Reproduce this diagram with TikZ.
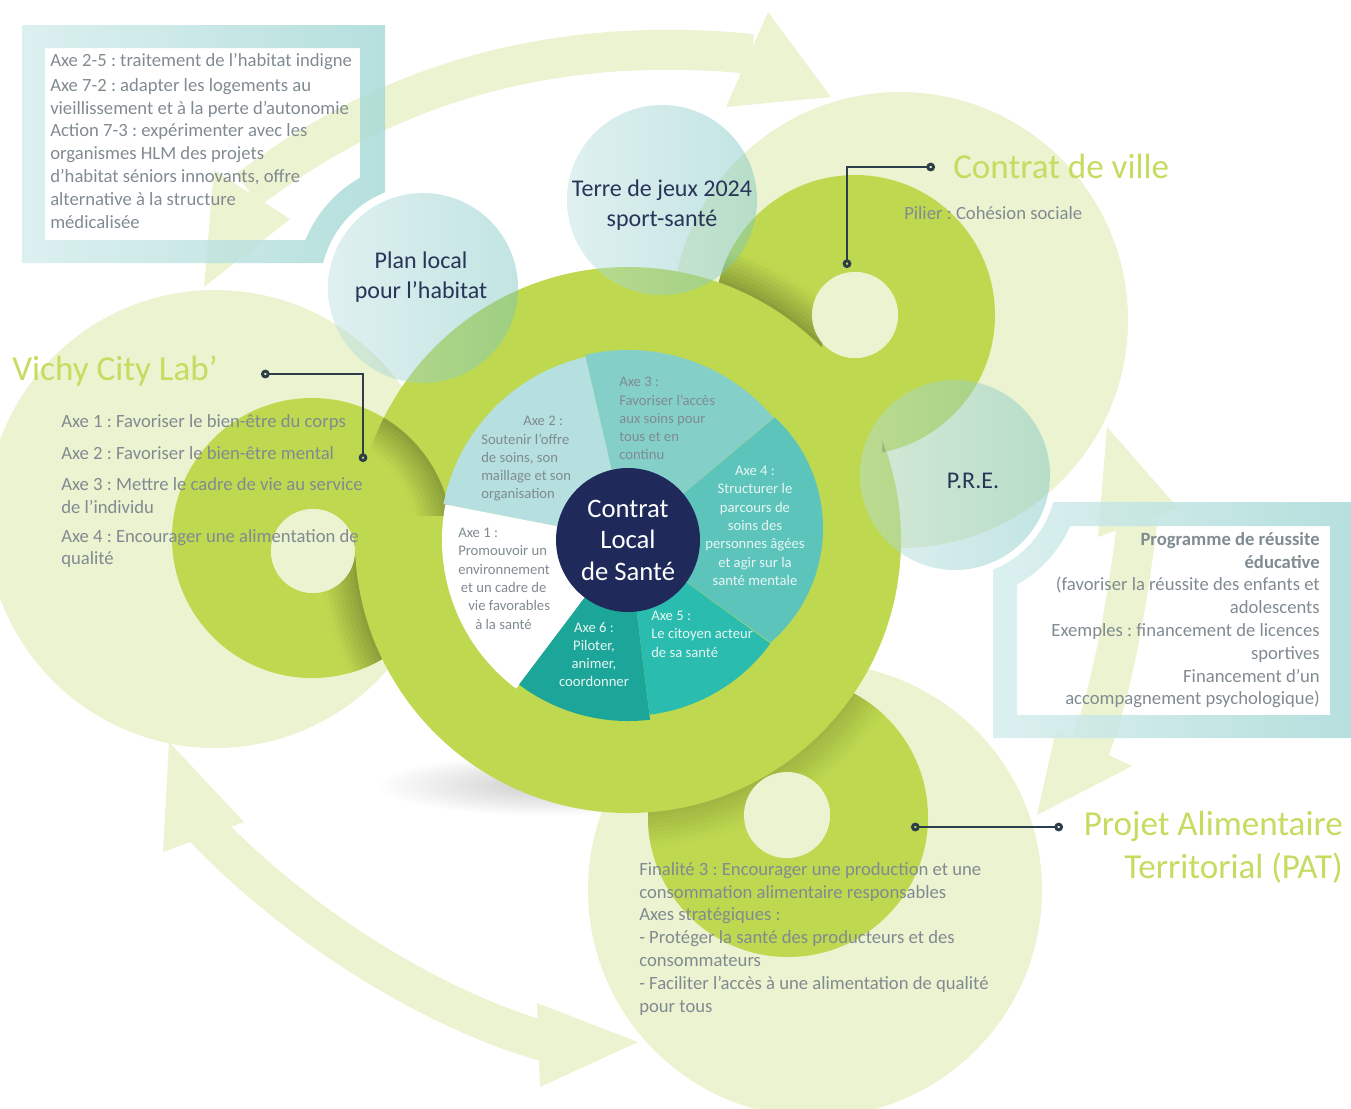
\documentclass[tikz,border=0pt]{standalone}
\usepackage{fontspec}
\setmainfont{Carlito}
\frenchspacing
\usetikzlibrary{arrows.meta}

\definecolor{palegreen}{RGB}{236,243,209}
\definecolor{ringgreen}{RGB}{190,217,80}
\definecolor{ringdark}{RGB}{140,160,58}
\definecolor{frameleft}{RGB}{214,237,237}
\definecolor{frameright}{RGB}{168,218,215}
\definecolor{bubbleleft}{RGB}{185,222,222}
\definecolor{bubbleright}{RGB}{118,196,192}
\definecolor{axetwo}{RGB}{181,224,223}
\definecolor{axethree}{RGB}{132,208,201}
\definecolor{axefour}{RGB}{92,196,187}
\definecolor{axefive}{RGB}{42,188,175}
\definecolor{axesix}{RGB}{28,166,153}
\definecolor{clsnavy}{RGB}{31,42,90}
\definecolor{titlegreen}{RGB}{196,220,96}
\definecolor{bodygray}{RGB}{128,139,145}
\definecolor{wedgelight}{RGB}{232,246,244}
\definecolor{leadergray}{RGB}{45,62,74}
\definecolor{labelnavy}{RGB}{40,52,88}

\tikzset{
  bodytext/.style={inner sep=0pt, text=bodygray, font=\fontsize{14pt}{17.1pt}\selectfont},
  wedgetext/.style={inner sep=0pt, font=\fontsize{11pt}{13.7pt}\selectfont},
  bigtitle/.style={inner sep=0pt, text=titlegreen, font=\fontsize{26.3pt}{32.3pt}\selectfont},
  bubble/.style={left color=bubbleleft, right color=bubbleright, opacity=0.45},
  bubblelabel/.style={align=center, inner sep=0pt, text=labelnavy, font=\fontsize{18pt}{22.5pt}\selectfont},
  leader/.style={draw=leadergray, line width=2.2pt, {Circle[open,length=6.5pt]}-{Circle[open,length=6.5pt]}},
  swoosh/.style={draw=palegreen, line width=30pt},
  swooshhead/.style={fill=palegreen},
  frameband/.style={left color=frameleft, right color=frameright, even odd rule, opacity=0.85},
  rim/.style={line width=3.2pt},
}

\begin{document}
\begin{tikzpicture}[x=0.75pt, y=-0.75pt]
    \useasboundingbox (0,0) rectangle (1351,1108);
    % Soft shadow under the central ring
    \shade[inner color=black!20, outer color=white] (548,785) ellipse (172 and 31);
    % Pale arrows linking the schemes
    \draw[swoosh] (248,190) .. controls (400,74) and (571,36) .. (752,54);
    \fill[swooshhead] (214,170) -- (290,219) -- (204,287) -- cycle;
    \fill[swooshhead] (768,12) -- (831,97) -- (726,107) -- cycle;
    \draw[swoosh] (1138,516) .. controls (1128,600) and (1112,690) .. (1090,748);
    \fill[swooshhead] (1098,537) -- (1107,427) -- (1178,508) -- cycle;
    \fill[swooshhead] (1056,730) -- (1132,766) -- (1037,815) -- cycle;
    \draw[swoosh] (200,823) .. controls (290,920) and (430,1010) .. (550,1043);
    \fill[swooshhead] (163,852) -- (169,742) -- (244,822) -- cycle;
    \fill[swooshhead] (537,1003) -- (638,1042) -- (540,1087) -- cycle;
    % Frames of the two side notes
    \shade[frameband]
        (22,25) -- (385,25) -- (385,192.3)
        arc[start angle=-111.7, end angle=-166, radius=103] -- (22,263) -- cycle
        (45,48) -- (360,48) -- (360,177.7)
        arc[start angle=-119.7, end angle=-157.8, radius=127] -- (45,240) -- cycle;
    \shade[frameband]
        (1053.4,502) -- (1351,502) -- (1351,738) -- (993,738) -- (993,569.7)
        arc[start angle=68.1, end angle=15.3, radius=102] -- cycle
        (1070.2,526) -- (1330,526) -- (1330,715) -- (1017,715) -- (1017,584.7)
        arc[start angle=60.5, end angle=23.9, radius=126] -- cycle;
    % Pale discs behind the partner rings
    \fill[palegreen] (215,519) circle (229);
    \fill[palegreen] (900,320) circle (228);
    \fill[palegreen] (815,890) circle (227);
    % Partner rings
    \fill[ringgreen, even odd rule] (312,538) circle (140) (313,551) circle (42);
    \fill[ringgreen, even odd rule] (855,315) circle (140) (855,315) circle (43);
    \fill[ringgreen, even odd rule] (788,817) circle (140) (787,815) circle (43);
    % Where they dip behind the central ring
    \begin{scope}
        \clip (0,540) rectangle (628,1108);
        \clip (312,538) circle (140);
        \foreach \k [evaluate=\k as \pct using int(\k*12)] in {0,...,8}
            \draw[rim, draw=ringgreen!\pct!ringdark] (628,540) circle (275+\k*4);
    \end{scope}
    \begin{scope}
        \clip (600,150) rectangle (822,420);
        \clip (855,315) circle (140);
        \foreach \k [evaluate=\k as \pct using int(\k*12)] in {0,...,8}
            \draw[rim, draw=ringgreen!\pct!ringdark] (628,540) circle (275+\k*4);
    \end{scope}
    \begin{scope}
        \clip (788,817) circle (140);
        \foreach \k [evaluate=\k as \pct using int(40+\k*7)] in {0,...,8}
            \draw[rim, draw=ringgreen!\pct!ringdark] (628,540) circle (275+\k*4);
    \end{scope}
    \fill[palegreen] (313,551) circle (42) (855,315) circle (43) (787,815) circle (43);
    % Central ring, dipping behind the partner rings
    \fill[ringgreen] (628,540) circle (273);
    \begin{scope}
        \clip (628,540) circle (273);
        \clip (300,380) rectangle (470,515);
        \foreach \k [evaluate=\k as \pct using int(\k*12)] in {0,...,8}
            \draw[rim, draw=ringgreen!\pct!ringdark] (312,538) circle (138-\k*4);
    \end{scope}
    \begin{scope}
        \clip (628,540) circle (273);
        \clip (882,420) rectangle (960,560);
        \foreach \k [evaluate=\k as \pct using int(\k*12)] in {0,...,8}
            \draw[rim, draw=ringgreen!\pct!ringdark] (855,315) circle (138-\k*4);
    \end{scope}
    % The six axes
    \fill[axetwo] (628,540) -- ++(-103:188) arc[start angle=-103, end angle=-169, radius=188] -- cycle;
    \fill[white] (628,540) -- ++(-169:186) arc[start angle=-169, end angle=-233, radius=186] -- cycle;
    \fill[axesix] (628,540) -- ++(-233:181) arc[start angle=-233, end angle=-277, radius=181] -- cycle;
    \fill[axefive] (628,540) -- ++(-277:176) arc[start angle=-277, end angle=-324, radius=176] -- cycle;
    \fill[axefour] (628,540) -- (774.8,417.4) arc[start angle=-47.1, end angle=49.3, radius=151] -- cycle;
    \fill[axethree] (628,540) -- ++(-40:190) arc[start angle=-40, end angle=-103, radius=190] -- cycle;
    \node[circle, fill=clsnavy, minimum size=108pt, inner sep=0pt, align=center, text=white,
          font=\fontsize{20pt}{23.6pt}\selectfont] (cls) at (628,540) {Contrat\\ Local\\ de Santé};
    % Translucent bubbles
    \shade[bubble] (423,288) circle (95);
    \shade[bubble] (662,200) circle (95);
    \shade[bubble] (955,475) circle (95);
    \node[bubblelabel] (plh-label) at (421,277) {Plan local\\ pour l’habitat};
    \node[bubblelabel] (tdj-label) at (662,205) {Terre de jeux 2024\\ sport-santé};
    \node[bubblelabel] (pre-label) at (973,481) {P.R.E.};
    % Texts of the axes
    \node[wedgetext, text=bodygray, anchor=north west, align=left] (axe1-text) at (458,528)
        {Axe 1 :\\ Promouvoir un\\ environnement\\ \hspace*{2pt}et un cadre de\\ \hspace*{7.5pt}vie favorables\\ \hspace*{12.75pt}à la santé};
    \node[wedgetext, text=bodygray, anchor=north west, align=left] (axe2-text) at (481,416)
        {\hspace*{31.5pt}Axe 2 :\\ Soutenir l’offre\\ de soins, son\\ maillage et son\\ organisation};
    \node[wedgetext, text=bodygray, anchor=north west, align=left] (axe3-text) at (619,377)
        {Axe 3 :\\ Favoriser l’accès\\ aux soins pour\\ tous et en\\ continu};
    \node[wedgetext, text=wedgelight, anchor=north, align=center] (axe4-text) at (755,466)
        {Axe 4 :\\ Structurer le\\ parcours de\\ soins des\\ personnes âgées\\ et agir sur la\\ santé mentale};
    \node[wedgetext, text=wedgelight, anchor=north west, align=left] (axe5-text) at (651,611)
        {Axe 5 :\\ Le citoyen acteur\\ de sa santé};
    \node[wedgetext, text=wedgelight, anchor=north, align=center] (axe6-text) at (594,622)
        {Axe 6 :\\ Piloter,\\ animer,\\ coordonner};
    % Partner schemes
    \node[bigtitle, anchor=base west] (vcl-title) at (12,380) {Vichy City Lab’};
    \node[bodytext, anchor=north west, align=left] (vcl-text) at (61,414)
        {Axe 1 : Favoriser le bien-être du corps\\[6.9pt]
         Axe 2 : Favoriser le bien-être mental\\[6.2pt]
         Axe 3 : Mettre le cadre de vie au service\\ de l’individu\\[4.7pt]
         Axe 4 : Encourager une alimentation de\\ qualité};
    \node[bigtitle, anchor=base west] (cdv-title) at (953,178) {Contrat de ville};
    \node[bodytext, anchor=north west] (cdv-text) at (904,206) {Pilier : Cohésion sociale};
    \node[bigtitle, anchor=north east, align=right] (pat-title) at (1343,811)
        {Projet Alimentaire\\ Territorial (PAT)};
    \node[bodytext, anchor=north west, align=left] (pat-text) at (639,862)
        {Finalité 3 : Encourager une production et une\\ consommation alimentaire responsables\\
         Axes stratégiques :\\ - Protéger la santé des producteurs et des\\ consommateurs\\
         - Faciliter l’accès à une alimentation de qualité\\ pour tous};
    \node[bodytext, anchor=north west, align=left] (plh-text) at (50,53)
        {Axe 2-5 : traitement de l’habitat indigne\\[1.6pt]
         Axe 7-2 : adapter les logements au\\ vieillissement et à la perte d’autonomie\\
         Action 7-3 : expérimenter avec les\\ organismes HLM des projets\\
         d’habitat séniors innovants, offre\\ alternative à la structure\\ médicalisée};
    \node[bodytext, anchor=north east, align=right] (pre-text) at (1320,532)
        {\textbf{Programme de réussite}\\ \textbf{éducative}\\ (favoriser la réussite des enfants et\\
         adolescents\\ Exemples : financement de licences\\ sportives\\ Financement d’un\\
         accompagnement psychologique)};
    % Leaders from the titles to the rings
    \coordinate (vcl-end) at (261,374);
    \coordinate (vcl-ring) at (363,462);
    \coordinate (cdv-end) at (935,167);
    \coordinate (cdv-ring) at (847,268);
    \coordinate (pat-ring) at (911,827);
    \coordinate (pat-end) at (1063,827);
    \draw[leader] (vcl-end) -| (vcl-ring);
    \draw[leader] (cdv-end) -| (cdv-ring);
    \draw[leader] (pat-ring) -- (pat-end);
\end{tikzpicture}
\end{document}
